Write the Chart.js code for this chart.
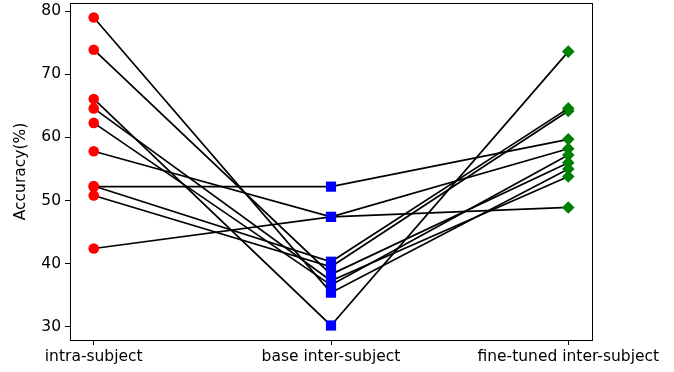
<!DOCTYPE html>
<html><head><meta charset="utf-8">
<script src="https://cdn.jsdelivr.net/npm/chart.js@4/dist/chart.umd.min.js"></script>
<style>html,body{margin:0;padding:0;background:#fff}#wrap{width:674px;height:372px}</style>
</head><body><div id="wrap"><canvas id="c" width="674" height="372"></canvas></div>
<script>
const categories = ['intra-subject', 'base inter-subject', 'fine-tuned inter-subject'];
const intraSubject = [79.0, 73.9, 66.1, 64.6, 62.3, 57.8, 52.2, 52.3, 50.8, 42.4];
const baseInter    = [35.4, 38.3, 30.2, 37.3, 36.6, 47.4, 52.2, 40.3, 39.5, 47.4];
const fineTuned    = [55.0, 56.0, 73.6, 53.8, 57.2, 48.9, 59.7, 64.6, 64.2, 58.2];
const yTicks = [30, 40, 50, 60, 70, 80];

const FONT = {family: 'DejaVu Sans', size: 15.5};
const datasets = intraSubject.map((v, i) => ({
  data: [{x: 0, y: v}, {x: 1, y: baseInter[i]}, {x: 2, y: fineTuned[i]}],
  borderColor: '#000', borderWidth: 1.7, showLine: true, fill: false,
  pointStyle: ['circle', 'rect', 'rectRot'],
  pointRadius: [5.3, 7.2, 6.3],
  pointBackgroundColor: ['#ff0000', '#0000ff', '#008000'],
  pointBorderColor: ['#ff0000', '#0000ff', '#008000'],
  pointBorderWidth: 0
}));

const frame = {
  id: 'frame',
  afterDatasetsDraw(chart) {
    const a = chart.chartArea, ctx = chart.ctx;
    ctx.save(); ctx.strokeStyle = '#000'; ctx.lineWidth = 1;
    ctx.strokeRect(Math.round(a.left) + 0.5, Math.round(a.top) + 0.5, Math.round(a.right - a.left), Math.round(a.bottom - a.top));
    ctx.restore();
  }
};

new Chart(document.getElementById('c'), {
  type: 'scatter',
  data: {datasets},
  plugins: [frame],
  options: {
    responsive: false, animation: false,
    layout: {autoPadding: false, padding: {left: 0, right: 82, top: 3, bottom: 0}},
    plugins: {legend: {display: false}, tooltip: {enabled: false}},
    scales: {
      x: {
        type: 'linear', min: -0.1, max: 2.1,
        afterBuildTicks: ax => { ax.ticks = categories.map((c, i) => ({value: i})); },
        afterFit: ax => { ax.height = 32; ax.paddingLeft = 0; ax.paddingRight = 0; },
        ticks: {callback: v => categories[v], autoSkip: false, maxRotation: 0, color: '#000', font: FONT, padding: 3},
        grid: {drawOnChartArea: false, drawTicks: true, tickLength: 5, color: '#000'},
        border: {display: true, color: '#000'}
      },
      y: {
        min: 27.9, max: 81.3,
        afterBuildTicks: ax => { ax.ticks = yTicks.map(v => ({value: v})); },
        afterFit: ax => { ax.width = 70; ax.paddingTop = 0; ax.paddingBottom = 0; },
        ticks: {color: '#000', font: FONT, padding: 4},
        grid: {drawOnChartArea: false, drawTicks: true, tickLength: 5, color: '#000'},
        border: {display: true, color: '#000'},
        title: {display: true, text: 'Accuracy(%)', color: '#000', font: FONT, padding: {top: 12, bottom: 4}}
      }
    }
  }
});
</script></body></html>
